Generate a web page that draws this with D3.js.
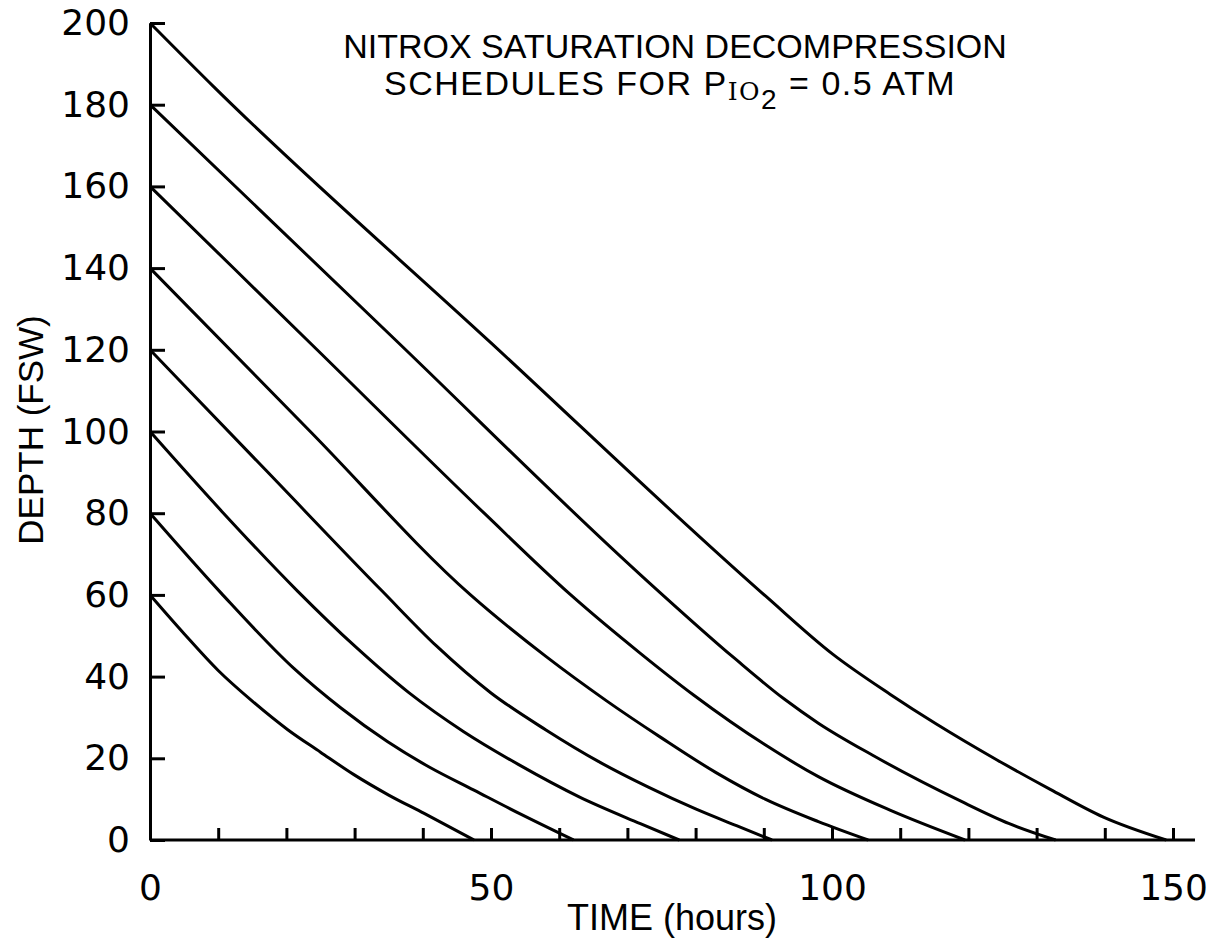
<!DOCTYPE html>
<html>
<head>
<meta charset="utf-8">
<script src="https://cdn.jsdelivr.net/npm/d3@7/dist/d3.min.js"></script>
<style>
  body { margin: 0; background: #fff; }
  .axis path, .axis line { stroke: #000; stroke-width: 3; }
  .axis text { font-family: "DejaVu Sans", sans-serif; font-size: 36px; fill: #000; }
  .label { font-family: "Liberation Sans", Arial, sans-serif; fill: #000; }
</style>
</head>
<body>
<div id="chart"></div>
<script>
// Schedules: [time (hours), depth (fsw)]
var curve60 = [[0, 60], [5, 50.5], [10, 41.5], [15, 34], [20.2, 27], [25, 21.5], [29.9, 16], [35, 11], [40.2, 6.5], [47.5, 0]];
var curve80 = [[0, 80], [10.4, 60.5], [21.1, 42], [28, 32.3], [34.8, 24.1], [41, 17.8], [47.5, 12.2], [54.5, 6.2], [62.1, 0]];
var curve100 = [[0, 100], [10.5, 80.5], [21.6, 61], [30, 47.5], [38, 36], [46, 26.5], [54, 18.5], [63, 10.5], [71.9, 4], [77.6, 0]];
var curve120 = [[0, 120], [17, 90.5], [34, 61], [42, 47.5], [50, 36], [58, 27], [66, 19], [73, 13], [80, 7.6], [86, 3.5], [91.2, 0]];
var curve140 = [[0, 140], [23.5, 100], [47, 60], [58, 45], [67, 34], [75, 25], [83, 16.5], [90.2, 10], [98, 4.5], [105.3, 0]];
var curve160 = [[0, 160], [24.5, 120], [49, 80], [61.7, 60], [71.9, 45.7], [79.7, 35.5], [90.2, 23.3], [98, 15.5], [108.5, 7.3], [119.5, 0]];
var curve180 = [[0, 180], [36, 122.4], [72, 64.8], [85.7, 44.5], [93, 34.5], [98, 28.6], [105.9, 20.8], [118.9, 9.5], [126, 4], [132.8, 0]];
var curve200 = [[0, 200], [9.4, 184.3], [50, 121.7], [90.2, 59.8], [100.1, 45.5], [108.5, 35.7], [115.3, 28.4], [124.2, 19.6], [132, 12.4], [139.8, 5.6], [149, 0]];
var schedules = [curve60, curve80, curve100, curve120, curve140, curve160, curve180, curve200];

var xMinorTicks = [10, 20, 30, 40, 50, 60, 70, 80, 90, 100, 110, 120, 130, 140, 150];
var xLabelTicks = [0, 50, 100, 150];
var yTicks = [0, 20, 40, 60, 80, 100, 120, 140, 160, 180, 200];

var svgWidth = 1225;
var svgHeight = 945;

var svg = d3.select('#chart')
  .append('svg')
  .attr('width', svgWidth)
  .attr('height', svgHeight);

svg.append('rect').attr('width', svgWidth).attr('height', svgHeight).attr('fill', '#fff');

// scales
var xScale = d3.scaleLinear().domain([0, 150]).range([150, 1173]);
var yScale = d3.scaleLinear().domain([0, 200]).range([840, 23]);

// y axis, ticks pointing into the plot
var leftAxis = d3.axisLeft(yScale)
  .tickValues(yTicks)
  .tickSizeInner(-15)
  .tickSizeOuter(0)
  .tickPadding(20);

svg.append('g')
  .attr('class', 'axis')
  .attr('transform', 'translate(' + xScale(0) + ',0)')
  .call(leftAxis);

// x axis minor ticks (every 10 h), pointing up
var bottomAxis = d3.axisBottom(xScale)
  .tickValues(xMinorTicks)
  .tickSizeInner(-12)
  .tickSizeOuter(0)
  .tickFormat('');

var xAxisG = svg.append('g')
  .attr('class', 'axis')
  .attr('transform', 'translate(0,' + yScale(0) + ')')
  .call(bottomAxis);
xAxisG.select('.domain').remove();

// baseline runs a little past 150
svg.append('line')
  .attr('x1', xScale(0))
  .attr('x2', xScale(150) + 22)
  .attr('y1', yScale(0))
  .attr('y2', yScale(0))
  .attr('stroke', '#000')
  .attr('stroke-width', 3);

// x tick labels
var labelAxis = d3.axisBottom(xScale)
  .tickValues(xLabelTicks)
  .tickSize(0)
  .tickPadding(34);

svg.append('g')
  .attr('class', 'axis')
  .attr('transform', 'translate(0,' + yScale(0) + ')')
  .call(labelAxis)
  .select('.domain').remove();

// schedule curves
var line = d3.line()
  .x(function(d) { return xScale(d[0]); })
  .y(function(d) { return yScale(d[1]); })
  .curve(d3.curveMonotoneX);

svg.selectAll('.schedule')
  .data(schedules)
  .enter()
  .append('path')
  .attr('class', 'schedule')
  .attr('d', line)
  .attr('fill', 'none')
  .attr('stroke', '#000')
  .attr('stroke-width', 3)
  .attr('stroke-linejoin', 'round');

// axis titles
svg.append('text')
  .attr('class', 'label')
  .attr('x', 672)
  .attr('y', 930)
  .attr('text-anchor', 'middle')
  .style('font-size', '36px')
  .text('TIME (hours)');

svg.append('text')
  .attr('class', 'label')
  .attr('transform', 'translate(43,430) rotate(-90)')
  .attr('text-anchor', 'middle')
  .style('font-size', '35px')
  .text('DEPTH (FSW)');

// chart title
svg.append('text')
  .attr('class', 'label')
  .attr('x', 675)
  .attr('y', 58)
  .attr('text-anchor', 'middle')
  .style('font-size', '34px')
  .text('NITROX SATURATION DECOMPRESSION');

var title2 = svg.append('text')
  .attr('class', 'label')
  .attr('x', 670)
  .attr('y', 95)
  .attr('text-anchor', 'middle')
  .style('font-size', '34px')
  .style('letter-spacing', '1.5px');
title2.append('tspan').text('SCHEDULES FOR P');
title2.append('tspan').attr('dy', 5).style('font-size', '25px').style('font-family', 'DejaVu Serif, serif').text('IO');
title2.append('tspan').attr('dy', 9).style('font-size', '28px').text('2');
title2.append('tspan').attr('dy', -14).text(' = 0.5 ATM');
</script>
</body>
</html>
